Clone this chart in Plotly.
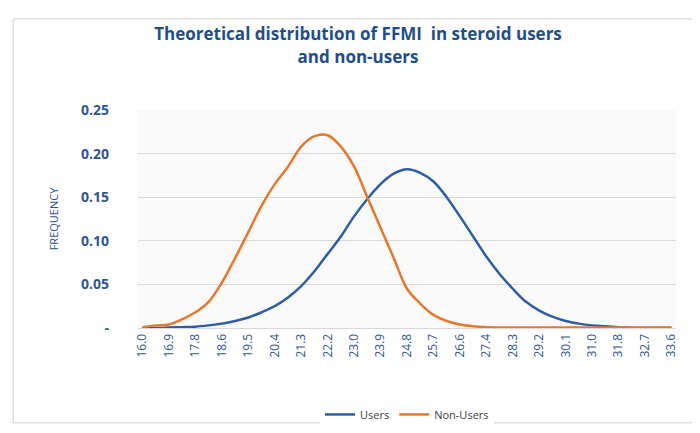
import plotly.graph_objects as go

x = [16.0, 16.44, 16.88, 17.32, 17.76, 18.2, 18.64, 19.08, 19.52, 19.96, 20.4, 20.84, 21.28, 21.72,
     22.16, 22.6, 23.04, 23.48, 23.92, 24.36, 24.8, 25.24, 25.68, 26.12, 26.56, 27.0, 27.44, 27.88,
     28.32, 28.76, 29.2, 29.64, 30.08, 30.52, 30.96, 31.4, 31.84, 32.28, 32.72, 33.16, 33.6]
users = [0.0, 0.0, 0.0005, 0.001, 0.0015, 0.003, 0.005, 0.008, 0.012, 0.018, 0.025, 0.035, 0.048, 0.065,
         0.085, 0.105, 0.128, 0.148, 0.165, 0.177, 0.182, 0.178, 0.168, 0.150, 0.128, 0.105, 0.082, 0.062,
         0.045, 0.030, 0.020, 0.013, 0.008, 0.005, 0.003, 0.002, 0.001, 0.0, 0.0, 0.0, 0.0]
non_users = [0.001, 0.003, 0.004, 0.010, 0.018, 0.030, 0.052, 0.080, 0.110, 0.140, 0.165, 0.185, 0.208, 0.220,
             0.221, 0.208, 0.185, 0.150, 0.115, 0.080, 0.045, 0.028, 0.015, 0.008, 0.004, 0.002, 0.001, 0.0005,
             0.0005, 0.0005, 0.0005, 0.0005, 0.0005, 0.0005, 0.0005, 0.0005, 0.0005, 0.0005, 0.0005, 0.0005, 0.0005]
tick_vals = [16.0, 16.88, 17.76, 18.64, 19.52, 20.4, 21.28, 22.16, 23.04, 23.92, 24.8, 25.68, 26.56, 27.44,
             28.32, 29.2, 30.08, 30.96, 31.84, 32.72, 33.6]
tick_text = ["16.0", "16.9", "17.8", "18.6", "19.5", "20.4", "21.3", "22.2", "23.0", "23.9", "24.8", "25.7",
             "26.6", "27.4", "28.3", "29.2", "30.1", "31.0", "31.8", "32.7", "33.6"]
y_vals = [0, 0.05, 0.10, 0.15, 0.20, 0.25]
y_text = ["<b>-</b>", "<b>0.05</b>", "<b>0.10</b>", "<b>0.15</b>", "<b>0.20</b>", "<b>0.25</b>"]

blue = "#2E5DA8"
orange = "#E8772E"
txt = "#2F5597"

fig = go.Figure()
fig.add_trace(go.Scatter(x=x, y=users, mode="lines", name="Users", line=dict(color=blue, width=2.5, shape="spline")))
fig.add_trace(go.Scatter(x=x, y=non_users, mode="lines", name="Non-Users", line=dict(color=orange, width=2.5, shape="spline")))

fig.update_layout(
    width=700, height=433, paper_bgcolor="white", plot_bgcolor="#FAFAFA",
    margin=dict(l=130, r=32, t=102, b=106),
    font=dict(family="Open Sans, sans-serif", color=txt),
    title=dict(text="<b>Theoretical distribution of FFMI  in steroid users<br>and non-users</b>",
               x=0.5, xanchor="center", y=0.925, yanchor="top", font=dict(size=17, color="#1F4E8C")),
    legend=dict(orientation="h", x=0.5, xanchor="center", y=-0.33, yanchor="top", font=dict(size=11, color="#404040")),
    showlegend=True,
)
fig.update_xaxes(range=[15.85, 33.75], tickvals=tick_vals, ticktext=tick_text, tickangle=-90,
                 tickfont=dict(size=12, color=txt), showgrid=False, showline=True, linecolor="#D9D9D9", ticks="")
fig.update_yaxes(range=[0, 0.25], tickvals=y_vals, ticktext=y_text, tickfont=dict(size=14, color=txt),
                 ticklabelstandoff=28,
                 title=dict(text="FREQUENCY", font=dict(size=11, color=txt), standoff=20),
                 showgrid=True, gridcolor="#D9D9D9", zeroline=False, ticks="")
fig.add_shape(type="rect", xref="paper", yref="paper", x0=-0.232, x1=1.05, y0=-0.435, y1=1.418,
              line=dict(color="#D0D0D0", width=1))
fig.write_html("out.html")
